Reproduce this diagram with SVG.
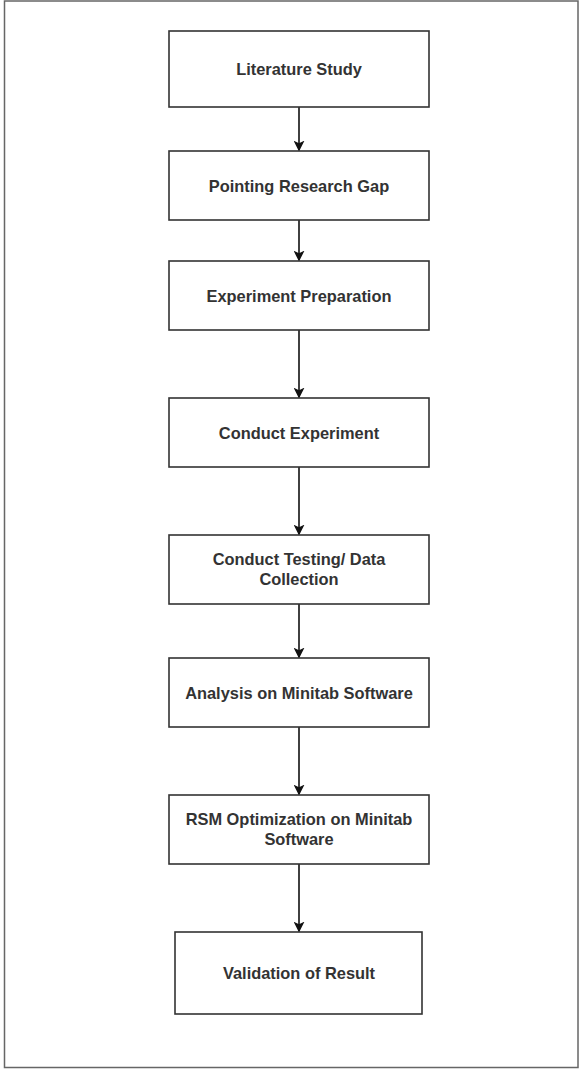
<svg xmlns="http://www.w3.org/2000/svg" width="579" height="1069" viewBox="0 0 579 1069">
  <style>
    .frame { fill: #ffffff; stroke: #666666; stroke-width: 1.5; }
    .box { fill: #ffffff; stroke: #333333; stroke-width: 1.6; }
    .label { font-family: "Liberation Sans", Arial, sans-serif; font-size: 16.4px; font-weight: bold; fill: #333333; text-anchor: middle; }
    .edge { stroke: #111111; stroke-width: 1.6; fill: none; }
  </style>
  <defs>
    <marker id="arrow" viewBox="0 0 10 10" refX="9" refY="5" markerWidth="11" markerHeight="11" markerUnits="userSpaceOnUse" orient="auto">
      <path d="M0,0 L10,5 L0,10 L2.5,5 Z" fill="#111111"/>
    </marker>
  </defs>

  <!-- page frame -->
  <rect class="frame" x="4.5" y="1" width="573.5" height="1066.5"/>

  <!-- connectors -->
  <g id="connectors">
    <line class="edge" x1="299" y1="107" x2="299" y2="150.5" marker-end="url(#arrow)"/>
    <line class="edge" x1="299" y1="220" x2="299" y2="260.5" marker-end="url(#arrow)"/>
    <line class="edge" x1="299" y1="330" x2="299" y2="397.5" marker-end="url(#arrow)"/>
    <line class="edge" x1="299" y1="467" x2="299" y2="534.5" marker-end="url(#arrow)"/>
    <line class="edge" x1="299" y1="604" x2="299" y2="657.5" marker-end="url(#arrow)"/>
    <line class="edge" x1="299" y1="727" x2="299" y2="794.5" marker-end="url(#arrow)"/>
    <line class="edge" x1="299" y1="864" x2="299" y2="931.5" marker-end="url(#arrow)"/>
  </g>

  <!-- process steps -->
  <g id="literature-study">
    <rect class="box" x="169" y="31" width="260" height="76"/>
    <text class="label" x="299" y="75">Literature Study</text>
  </g>
  <g id="research-gap">
    <rect class="box" x="169" y="151" width="260" height="69"/>
    <text class="label" x="299" y="191.5">Pointing Research Gap</text>
  </g>
  <g id="experiment-preparation">
    <rect class="box" x="169" y="261" width="260" height="69"/>
    <text class="label" x="299" y="301.5">Experiment Preparation</text>
  </g>
  <g id="conduct-experiment">
    <rect class="box" x="169" y="398" width="260" height="69"/>
    <text class="label" x="299" y="438.5">Conduct Experiment</text>
  </g>
  <g id="testing-data-collection">
    <rect class="box" x="169" y="535" width="260" height="69"/>
    <text class="label" x="299" y="565">Conduct Testing/ Data</text>
    <text class="label" x="299" y="585">Collection</text>
  </g>
  <g id="minitab-analysis">
    <rect class="box" x="169" y="658" width="260" height="69"/>
    <text class="label" x="299" y="698.5">Analysis on Minitab Software</text>
  </g>
  <g id="rsm-optimization">
    <rect class="box" x="169" y="795" width="260" height="69"/>
    <text class="label" x="299" y="825">RSM Optimization on Minitab</text>
    <text class="label" x="299" y="845">Software</text>
  </g>
  <g id="validation">
    <rect class="box" x="175" y="932" width="247" height="82"/>
    <text class="label" x="299" y="978.5">Validation of Result</text>
  </g>
</svg>
